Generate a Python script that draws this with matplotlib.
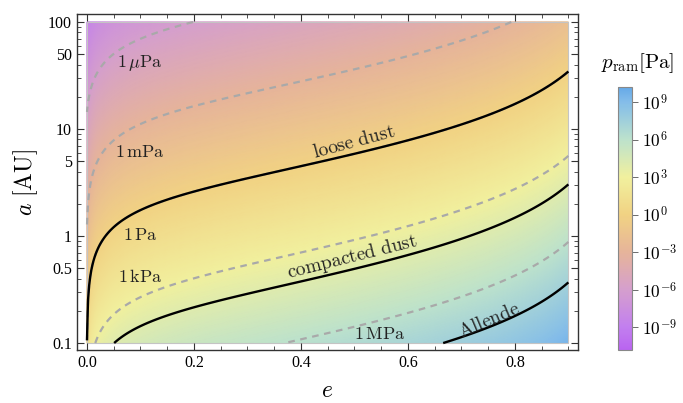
import numpy as np
import matplotlib
matplotlib.use("Agg")
import matplotlib.pyplot as plt
from matplotlib.colors import LinearSegmentedColormap, Normalize
from matplotlib.ticker import FixedLocator, FuncFormatter, NullFormatter
from matplotlib.patches import Rectangle

plt.rcParams['mathtext.fontset'] = 'cm'
plt.rcParams['font.family'] = ['Liberation Serif', 'DejaVu Serif']

# fitted ram pressure
# log p = logA - k log a - c max(log a, 0)^2 - m log(1-e) + 2 log(g(e) + eta0 a^s)   [Pa]
log_A = 3.09
k_a = 3.7
c_a = 0.05
m_e = 3.54
g_lin = 0.42
g_extra = 0.38
g_scale = 0.2
eta0 = 1.26e-3
eta_pow = 0.46

e_range = [0.0, 0.9]
loga_range = [-1.0, 2.0]

# contour levels (Pa)
grid_levels = [1e-6, 1e-3, 1e0, 1e3, 1e6]
grid_names = [r'$1\,\mu\mathrm{Pa}$', r'$1\,\mathrm{mPa}$', r'$1\,\mathrm{Pa}$',
              r'$1\,\mathrm{kPa}$', r'$1\,\mathrm{MPa}$']
strength_levels = [1e0, 1e4, 2.5e7]
strength_names = [r'$\mathrm{loose\ dust}$', r'$\mathrm{compacted\ dust}$', r'$\mathrm{Allende}$']

# colour bar
cbar_range = [-10.8, 10.2]
cbar_ticks = [-9, -6, -3, 0, 3, 6, 9]
pastel_pos = [0.0, 0.0857, 0.2286, 0.371, 0.514, 0.657, 0.8, 0.943, 1.0]
pastel_hex = ['#b964f0', '#c27fef', '#d59fcd', '#e6b49a', '#f1d283',
              '#f1f09e', '#bde2cc', '#84bde9', '#66a9e8']

xticks = [0.0, 0.2, 0.4, 0.6, 0.8]
yticks = [0.1, 0.5, 1, 5, 10, 50, 100]

# label placement
grid_label_xy = [(0.099, 41), (0.099, 6.1), (0.099, 1.02), (0.099, 0.41), (0.548, 0.121)]
strength_label_xy = [(0.50, 7.5), (0.497, 0.63), (0.752, 0.16)]
strength_label_rot = [15, 14, 23]

# field
e = np.linspace(e_range[0], e_range[1], 451)
loga = np.linspace(loga_range[0], loga_range[1], 451)
E, LA = np.meshgrid(e, loga)
A = 10**LA
g = E * (g_lin + g_extra * np.exp(-E / g_scale))
logp = (log_A - k_a * LA - c_a * np.clip(LA, 0, None)**2 - m_e * np.log10(1 - E)
        + 2 * np.log10(g + eta0 * A**eta_pow))

cmap = LinearSegmentedColormap.from_list('pastel', list(zip(pastel_pos, pastel_hex)))
norm = Normalize(*cbar_range)

fig = plt.figure(figsize=(6.83, 4.03), dpi=100)
ax = fig.add_axes([77/683, 53/403, 501/683, 336/403])

mesh = ax.pcolormesh(E, A, logp, cmap=cmap, norm=norm, shading='gouraud', rasterized=True)
ax.contour(E, A, logp, levels=np.log10(grid_levels), colors='#a9a9a9',
           linestyles=[(0, (3, 2.5))], linewidths=1.6)
ax.contour(E, A, logp, levels=np.log10(strength_levels), colors='k', linewidths=1.7)
ax.add_patch(Rectangle((0, 0.1), 0.9, 99.9, fill=False, ec='#c4c4c4', lw=0.8))

for name, (x, y) in zip(grid_names, grid_label_xy):
    ax.text(x, y, name, fontsize=13, color='#222222', ha='center', va='center')
for name, (x, y), r in zip(strength_names, strength_label_xy, strength_label_rot):
    ax.text(x, y, name, fontsize=14, color='#222222', ha='center', va='center', rotation=r)

ax.set_yscale('log')
ax.set_xlim(-0.0187, 0.918)
ax.set_ylim(10**-1.065, 10**2.075)
ax.set_xticks(xticks)
ax.set_xticklabels(['%.1f' % v for v in xticks])
ax.set_xticks(np.arange(0, 0.91, 0.05), minor=True)
ax.yaxis.set_major_locator(FixedLocator(yticks))
ax.yaxis.set_major_formatter(FuncFormatter(lambda v, _: '%g' % v))
minor_y = [m * 10.0**d for d in (-1, 0, 1) for m in range(2, 10) if m != 5]
ax.yaxis.set_minor_locator(FixedLocator(minor_y))
ax.yaxis.set_minor_formatter(NullFormatter())
ax.tick_params(which='both', direction='in', top=True, right=True, labelsize=11.5, color='#333333')
ax.tick_params(which='major', length=5, width=0.8)
ax.tick_params(which='minor', length=3, width=0.6)
for s in ax.spines.values():
    s.set_color('#333333')
    s.set_linewidth(1.0)

ax.set_xlabel(r'$e$', fontsize=17, labelpad=7)
ax.set_ylabel(r'$a\ [\mathrm{AU}]$', fontsize=17, labelpad=6)

cax = fig.add_axes([618/683, 53/403, 14/683, 263/403])
cb = fig.colorbar(mesh, cax=cax, ticks=cbar_ticks)
cb.ax.set_yticklabels([r'$10^{%d}$' % t for t in cbar_ticks])
cb.ax.tick_params(labelsize=12.5, length=4, width=0.6, color='#555555')
cb.outline.set_edgecolor('#888888')
cb.outline.set_linewidth(0.8)
fig.text(638/683, 1 - 63/403, r'$p_{\mathrm{ram}}[\mathrm{Pa}]$', fontsize=15, ha='center', va='center')

fig.savefig('out.png', dpi=100)
